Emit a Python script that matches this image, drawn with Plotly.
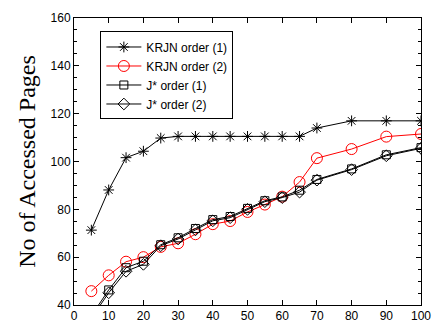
import plotly.graph_objects as go

x = [5, 10, 15, 20, 25, 30, 35, 40, 45, 50, 55, 60, 65, 70, 80, 90, 100]
krjn1 = [71.3, 88.1, 101.6, 104.3, 109.8, 110.5, 110.5, 110.5, 110.5, 110.5, 110.5, 110.5, 110.5, 114.0, 117.0, 117.0, 117.0]
krjn2 = [45.8, 52.4, 58.1, 60.0, 64.3, 65.8, 69.6, 73.8, 75.1, 78.9, 82.0, 85.3, 91.4, 101.4, 105.2, 110.4, 111.5]
jstar1 = [35.5, 46.3, 55.6, 58.3, 65.2, 68.1, 72.0, 75.7, 77.0, 80.4, 83.6, 85.2, 88.0, 92.5, 96.9, 102.8, 105.8]
jstar2 = [34.5, 45.1, 54.1, 57.0, 64.8, 67.6, 71.4, 75.2, 76.5, 80.0, 83.2, 84.9, 87.2, 92.2, 96.6, 102.4, 105.5]

names = ["KRJN order (1)", "KRJN order (2)", "J* order (1)", "J* order (2)"]
series = [krjn1, krjn2, jstar1, jstar2]
colors = ["black", "red", "black", "black"]
symbols = ["asterisk-open", "circle-open", "square-open", "diamond-open"]
sizes = [9, 11, 8, 9]

fig = go.Figure()
for n, s, c, sym, sz in zip(names, series, colors, symbols, sizes):
    fig.add_trace(go.Scatter(
        x=x, y=s, name=n, mode="lines+markers",
        line=dict(color=c, width=1),
        marker=dict(symbol=sym, size=sz, color=c, line=dict(width=1, color=c)),
    ))

fig.update_layout(
    width=442, height=334,
    margin=dict(l=74, r=11, t=14, b=21),
    plot_bgcolor="white", paper_bgcolor="white",
    font=dict(family="Liberation Sans, Arial, sans-serif", size=12, color="black"),
    showlegend=True,
    legend=dict(
        x=0.076, y=0.953, xanchor="left", yanchor="top",
        bordercolor="black", borderwidth=1, bgcolor="white",
        font=dict(size=12), itemwidth=35, tracegroupgap=0,
    ),
)
fig.update_xaxes(
    range=[0, 100], tickvals=[0, 10, 20, 30, 40, 50, 60, 70, 80, 90, 100],
    ticks="inside", ticklen=5, tickcolor="black", showgrid=False, zeroline=False,
    showline=True, linecolor="black", linewidth=1, mirror="ticks",
    tickfont=dict(size=12),
)
fig.update_yaxes(
    range=[40, 160], tickvals=[40, 60, 80, 100, 120, 140, 160],
    ticks="inside", ticklen=5, tickcolor="black", showgrid=False, zeroline=False,
    showline=True, linecolor="black", linewidth=1, mirror="ticks",
    minor=dict(dtick=5, ticks="inside", ticklen=3, tickcolor="black"),
    tickfont=dict(size=12),
    title=dict(text="No of Accessed Pages", font=dict(family="Liberation Serif, Times New Roman, serif", size=24), standoff=8),
)

fig.write_html("out.html")
